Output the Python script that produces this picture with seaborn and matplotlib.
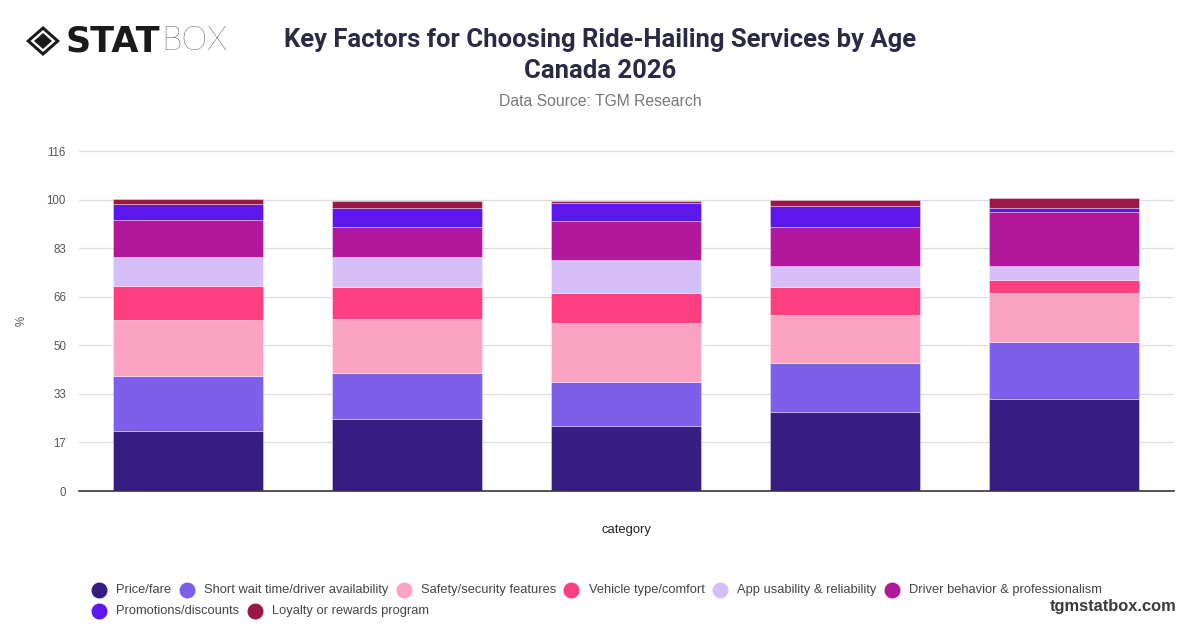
import numpy as np
import pandas as pd
import matplotlib
matplotlib.use("Agg")
import matplotlib.pyplot as plt
from matplotlib.patches import Polygon
from matplotlib.lines import Line2D
import seaborn as sns

# ---------------- data ----------------
categories = ["18-24", "25-34", "35-44", "45-54", "55+"]
factors = ["Price/fare", "Short wait time/driver availability", "Safety/security features",
           "Vehicle type/comfort", "App usability & reliability", "Driver behavior & professionalism",
           "Promotions/discounts", "Loyalty or rewards program"]
price_fare = [20.4, 24.4, 22.1, 27.0, 31.4]
short_wait = [18.9, 16.0, 15.2, 16.6, 19.6]
safety = [19.0, 18.2, 20.0, 16.6, 16.6]
vehicle = [11.6, 10.9, 10.4, 9.3, 4.5]
app_usability = [9.9, 10.2, 11.0, 7.2, 4.8]
driver_behavior = [12.6, 10.4, 13.5, 13.4, 18.3]
promotions = [5.6, 6.4, 6.2, 7.1, 1.5]
loyalty = [1.7, 2.4, 0.7, 2.1, 3.1]
series = [price_fare, short_wait, safety, vehicle, app_usability, driver_behavior, promotions, loyalty]
colors = ["#371C82", "#7D5FEA", "#FCA3C1", "#FE4083", "#D6BEF9", "#B1189C", "#5E17EB", "#9A1848"]
y_max = 116
y_tick_labels = ["0", "17", "33", "50", "66", "83", "100", "116"]

# ---------------- figure ----------------
sns.set_theme(style="white")
plt.rcParams["font.family"] = ["Liberation Sans", "DejaVu Sans"]

fig = plt.figure(figsize=(12, 6.28), dpi=100)
ax = fig.add_axes([78.5 / 1200, 1 - 491 / 628, (1174 - 78.5) / 1200, 340 / 628])

bottom = np.zeros(len(categories))
for name, vals, col in zip(factors, series, colors):
    df = pd.DataFrame({"category": categories, "value": vals})
    sns.barplot(data=df, x="category", y="value", color=col, saturation=1,
                width=0.685, bottom=bottom.copy(), ax=ax, errorbar=None,
                edgecolor=(1, 1, 1, 0.5), linewidth=0.5, zorder=3)
    bottom += np.array(vals)

ax.set_xlim(-0.5, len(categories) - 0.5)
ax.set_ylim(0, y_max)
yt = np.arange(len(y_tick_labels)) * y_max / (len(y_tick_labels) - 1)
ax.set_yticks(yt)
ax.set_yticklabels(y_tick_labels, color="#555555", fontsize=8.3)
ax.tick_params(axis="y", length=0, pad=9)
ax.tick_params(axis="x", length=0, labelbottom=False)
ax.grid(axis="y", color="#DDDDDD", linewidth=0.9, zorder=0)
for s in ["top", "right", "left"]:
    ax.spines[s].set_visible(False)
ax.spines["bottom"].set_color("#333333")
ax.spines["bottom"].set_linewidth(1.2)
ax.spines["bottom"].set_zorder(5)
ax.set_xlabel("category", fontsize=9.4, color="#222222", labelpad=24)
ax.set_ylabel("%", fontsize=8.3, color="#555555")
ax.yaxis.set_label_coords((28 - 78.5) / 1095.5, 0.5)

renderer = fig.canvas.get_renderer()

def fit_text(x, y, s, target_w, **kw):
    t = fig.text(x, y, s, fontsize=10, **kw)
    w = t.get_window_extent(renderer).width
    t.set_fontsize(10 * target_w / w)
    return t

# title
title_family = ["Liberation Sans Narrow", "Roboto", "DejaVu Sans"]
t1 = fit_text(600 / 1200, 1 - 40 / 628, "Key Factors for Choosing Ride-Hailing Services by Age", 632,
              ha="center", va="center", fontweight="bold", color="#2B2A45", family=title_family)
fig.text(600 / 1200, 1 - 71 / 628, "Canada 2026", ha="center", va="center",
         fontweight="bold", color="#2B2A45", family=title_family, fontsize=t1.get_fontsize())
fit_text(600 / 1200, 1 - 101 / 628, "Data Source: TGM Research", 204,
         ha="center", va="center", color="#777777", family=["Liberation Sans", "DejaVu Sans"])

# logo
cx, cy = 43 / 1200, 1 - 41 / 628
def diamond(rx, ry, col):
    pts = [(cx - rx / 1200, cy), (cx, cy + ry / 628), (cx + rx / 1200, cy), (cx, cy - ry / 628)]
    fig.patches.append(Polygon(pts, closed=True, transform=fig.transFigure, facecolor=col,
                               edgecolor="none", figure=fig))
diamond(17, 15, "#1A1A1A")
diamond(12.5, 11, "white")
diamond(9, 8, "#1A1A1A")
fit_text(65 / 1200, 1 - 41 / 628, "STAT", 95, ha="left", va="center", fontweight="heavy",
         color="#1A1A1A", family=["DejaVu Sans", "Liberation Sans"])
fit_text(161 / 1200, 1 - 41 / 628, "BOX", 66, ha="left", va="center", fontweight="light",
         color="#1A1A1A", family=["Lato", "Liberation Sans"])

# legend (flow layout)
rows = [(0, 6, 590), (6, 8, 611)]
for start, end, yy in rows:
    x = 99
    for i in range(start, end):
        fig.add_artist(Line2D([x / 1200], [1 - yy / 628], marker="o", markersize=10.5,
                              color=colors[i], linestyle="none", transform=fig.transFigure))
        t = fig.text((x + 17.5) / 1200, 1 - yy / 628, factors[i], ha="left", va="center",
                     fontsize=9.25, color="#444444")
        w = t.get_window_extent(renderer).width
        x = x + 17.5 + w + 15

fit_text(1176 / 1200, 1 - 606 / 628, "tgmstatbox.com", 127, ha="right", va="center",
         fontweight="bold", color="#3A3A3A", family=["Liberation Sans", "DejaVu Sans"])

fig.savefig("out.png", dpi=100)
